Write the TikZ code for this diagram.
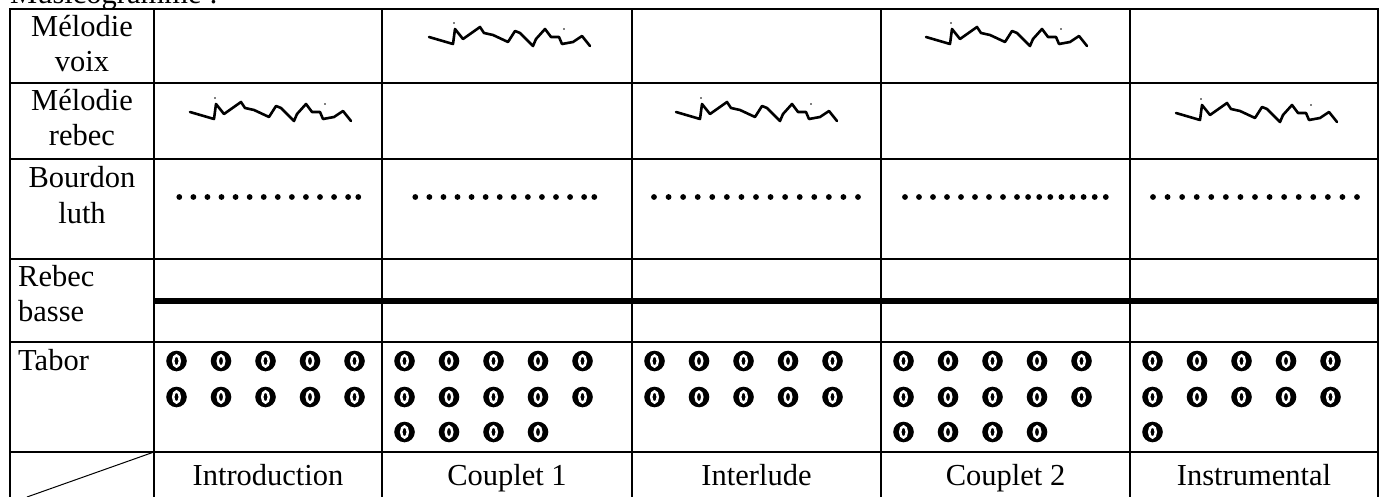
\documentclass[tikz,border=0pt]{standalone}
\usepackage{fontspec}
\setmainfont{Liberation Serif}
\begin{document}
\begin{tikzpicture}[x=1pt,y=-1pt,
  grid/.style={line width=1.6pt},
  thickrule/.style={line width=6.5pt},
  lbl/.style={font=\fontsize{30.5}{35.5}\selectfont, inner sep=0pt, anchor=base},
  lbll/.style={lbl, anchor=base west},
  bead/.style={fill=black},
  melody/.pic={
    \draw[line width=2.6pt, line join=round, line cap=round]
      (0,0) -- (24,7) -- (26,-8) -- (34,2) -- (51,-10) -- (55,-4) -- (64,-2)
      -- (79,5) -- (86,-6) -- (91,-4) -- (104,9) -- (107,2) -- (116,-8)
      -- (122,0) -- (130,0) -- (133,7) -- (144,5) -- (153,-1) -- (161,9);
    \fill (25,-14) circle (0.9);
    \fill (135,-8) circle (0.9);
  },
  tabor/.pic={
    \fill (0,0) circle (10.3);
    \draw[white, line width=2.5pt] (0,0) ellipse (3.3 and 5.6);
  },
]
\useasboundingbox (0,0) rectangle (1384,497);
\clip (0,0) rectangle (1384,497);

% title, cut by the top edge
\node[lbll] (title) at (10,4) {Musicogramme :};

% table rules
\draw[grid] (10,497) -- (10,9) -- (1378,9) -- (1378,497);
\foreach \y in {83,159,259,342,452} \draw[grid] (10,\y) -- (1378,\y);
\foreach \x in {154,382,632,881,1130} \draw[grid] (\x,9) -- (\x,497);
\draw[thickrule] (154,301) -- (1378,301);
\draw[line width=1pt] (154,452) -- (27,497);

% row headers
\node[lbl] (mv1) at (82,37) {Mélodie};
\node[lbl] (mv2) at (82,72) {voix};
\node[lbl] (mr1) at (82,111) {Mélodie};
\node[lbl] (mr2) at (82,146) {rebec};
\node[lbl] (bl1) at (82,188) {Bourdon};
\node[lbl] (bl2) at (82,223) {luth};
\node[lbll] (rb1) at (18,286) {Rebec};
\node[lbll] (rb2) at (18,321) {basse};
\node[lbll] (tb) at (18,370) {Tabor};

% section names
\node[lbl] (s1) at (268,485) {Introduction};
\node[lbl] (s2) at (507,485) {Couplet 1};
\node[lbl] (s3) at (756.5,485) {Interlude};
\node[lbl] (s4) at (1005.5,485) {Couplet 2};
\node[lbl] (s5) at (1254,485) {Instrumental};

% melodies
\pic at (429,37) {melody};
\pic at (926,37) {melody};
\pic at (190,112) {melody};
\pic at (676,112) {melody};
\pic at (1176,113) {melody};

% drone dots
\foreach \k in {0,...,12} {
  \fill[bead] (179.3+14.07*\k,197) circle (2.9);
  \fill[bead] (415.3+14.07*\k,197) circle (2.9);
}
\fill[bead] (358.3,197) circle (2.9);
\fill[bead] (594.3,197) circle (2.9);
\foreach \k in {0,...,14} {
  \fill[bead] (654+14.57*\k,197) circle (2.9);
  \fill[bead] (1153+14.57*\k,197) circle (2.9);
}
\foreach \k in {0,...,8} \fill[bead] (905+14*\k,197) circle (2.9);
\foreach \k in {1,...,8} \fill[bead] (1017+11.1*\k,197) circle (2.9);

% tabor strokes
\foreach \L/\n in {154/0,382/4,632/0,881/4,1130/1} {
  \foreach \i in {0,...,4} {
    \pic at (\L+22.5+44.5*\i,361) {tabor};
    \pic at (\L+22.5+44.5*\i,397) {tabor};
  }
  \ifnum\n>0
    \foreach \i in {1,...,\n} \pic at (\L+22.5+44.5*\i-44.5,432) {tabor};
  \fi
}
\end{tikzpicture}
\end{document}
